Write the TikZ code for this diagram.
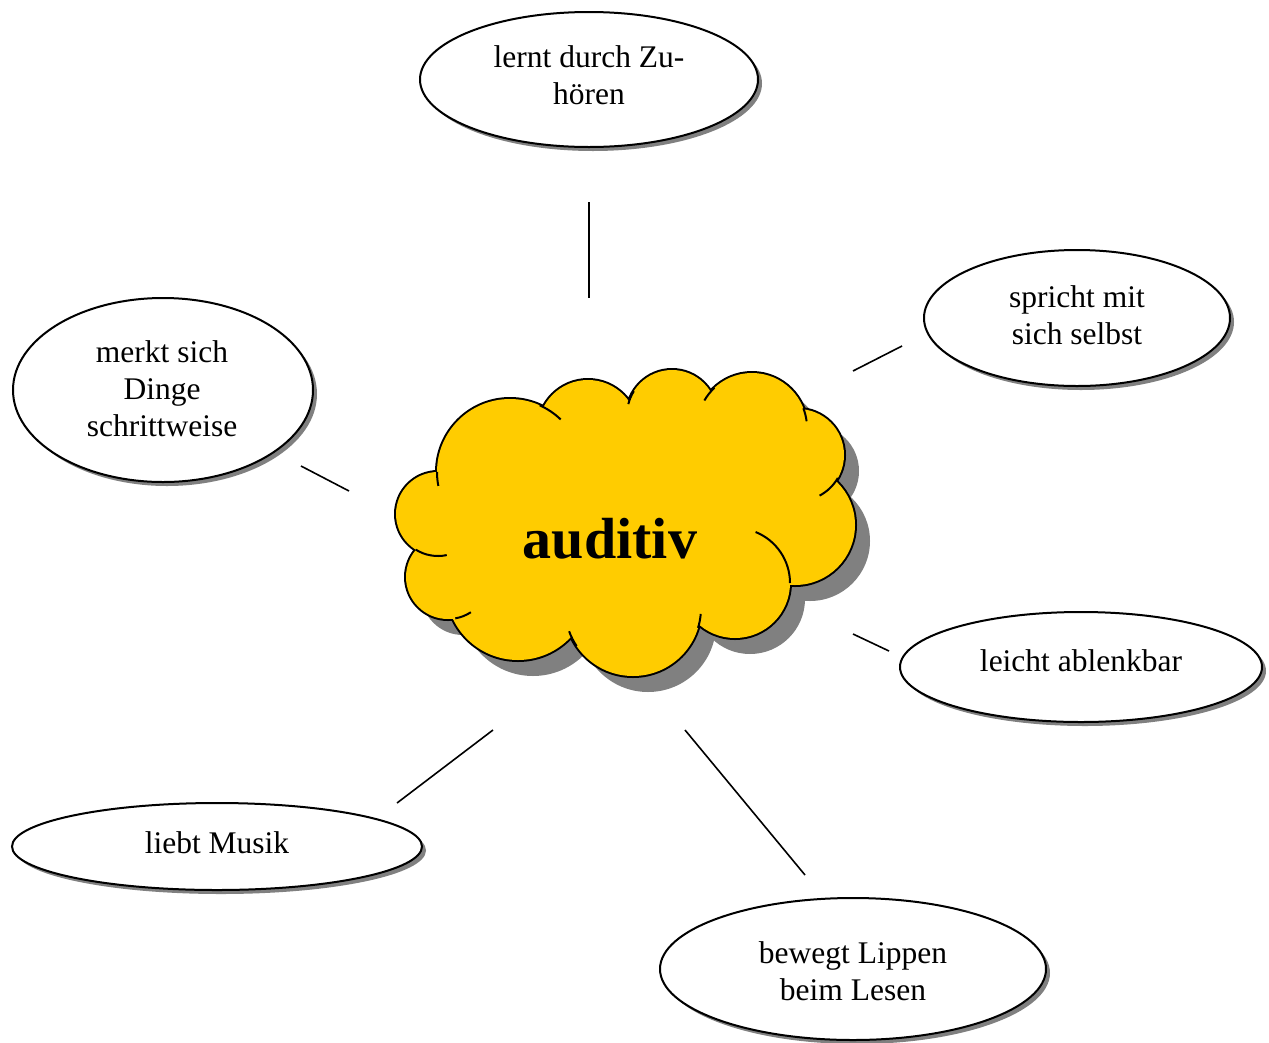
\documentclass[tikz,border=0pt]{standalone}
\usepackage{fontspec}
\setmainfont{Liberation Serif}
\usetikzlibrary{shapes.geometric,shadows}
\definecolor{cloudyellow}{RGB}{255,204,0}
\definecolor{shadowgray}{RGB}{128,128,128}
\begin{document}
\begin{tikzpicture}[x=1pt,y=1pt,
  bubble/.style={ellipse,draw=black,line width=2pt,fill=white,inner sep=0pt,
    drop shadow={shadow xshift=4pt,shadow yshift=-4pt,fill=shadowgray,opacity=1}},
  btext/.style={align=center,inner sep=0pt,font=\fontsize{31.5}{37}\selectfont},
  link/.style={line width=1.6pt,black},
  tail/.style={line width=2pt,black}]
\useasboundingbox (0,0) rectangle (1269,-1042);
% cloud lobes (centre, radius)
\coordinate (cA) at (438,-514); \coordinate (cB) at (510,-472);
\coordinate (cC) at (588,-430); \coordinate (cD) at (672,-415);
\coordinate (cE) at (752,-428); \coordinate (cF) at (798,-455);
\coordinate (cG) at (795,-525); \coordinate (cH) at (735,-583);
\coordinate (cI) at (633,-608); \coordinate (cJ) at (518,-588);
\coordinate (cK) at (448,-577);
\newcommand\cloudlobes[1]{([shift={#1}]cA) circle[radius=42pt] ([shift={#1}]cB) circle[radius=73pt]
  ([shift={#1}]cC) circle[radius=50pt] ([shift={#1}]cD) circle[radius=45pt]
  ([shift={#1}]cE) circle[radius=55pt] ([shift={#1}]cF) circle[radius=46pt]
  ([shift={#1}]cG) circle[radius=60pt] ([shift={#1}]cH) circle[radius=55pt]
  ([shift={#1}]cI) circle[radius=68pt] ([shift={#1}]cJ) circle[radius=72pt]
  ([shift={#1}]cK) circle[radius=42pt]}
% shadow
\fill[shadowgray] \cloudlobes{(15,-16)};
% outline (outer half of a thick stroke)
\draw[line width=4pt] \cloudlobes{(0,0)};
% body
\fill[cloudyellow] \cloudlobes{(0,0)};
\fill[cloudyellow] (625,-520) ellipse[x radius=178pt,y radius=98pt];
% tails
\draw[tail] (cB) ++(-180:73pt) arc[start angle=-180,end angle=-169,radius=73pt];
\draw[tail] (cB) ++(66:73pt) arc[start angle=66,end angle=46,radius=73pt];
\draw[tail] (cD) ++(148:45pt) arc[start angle=148,end angle=166,radius=45pt];
\draw[tail] (cE) ++(133:55pt) arc[start angle=133,end angle=150,radius=55pt];
\draw[tail] (cE) ++(21:55pt) arc[start angle=21,end angle=7,radius=55pt];
\draw[tail] (cF) ++(-30:46pt) arc[start angle=-30,end angle=-62,radius=46pt];
\draw[tail] (cH) ++(68:55pt) arc[start angle=68,end angle=0,radius=55pt];
\draw[tail] (cI) ++(-17:68pt) arc[start angle=-17,end angle=-5,radius=68pt];
\draw[tail] (cI) ++(-146:68pt) arc[start angle=-146,end angle=-160,radius=68pt];
\draw[tail] (cK) ++(-80:42pt) arc[start angle=-80,end angle=-57,radius=42pt];
\draw[tail] (cA) ++(-122:42pt) arc[start angle=-122,end angle=-78,radius=42pt];
\node[font=\fontsize{58}{60}\selectfont\bfseries,anchor=base] (core) at (610,-558) {auditiv};
% bubbles
\node[bubble,minimum width=338pt,minimum height=135pt] (zuhoeren) at (589,-79.5) {};
\node[bubble,minimum width=306pt,minimum height=136pt] (spricht) at (1077,-318) {};
\node[bubble,minimum width=300pt,minimum height=184pt] (merkt) at (163,-390) {};
\node[bubble,minimum width=362pt,minimum height=110pt] (ablenkbar) at (1081,-667) {};
\node[bubble,minimum width=410pt,minimum height=87pt] (musik) at (217,-846.5) {};
\node[bubble,minimum width=386pt,minimum height=142pt] (lippen) at (853,-969) {};
\node[btext] (zuhoeren-t) at (589,-75.5) {lernt durch Zu-\\hören};
\node[btext] (spricht-t) at (1077,-315) {spricht mit\\sich selbst};
\node[btext] (merkt-t) at (162,-389) {merkt sich\\Dinge\\schrittweise};
\node[btext] (ablenkbar-t) at (1081,-661) {leicht ablenkbar};
\node[btext] (musik-t) at (217,-842.5) {liebt Musik};
\node[btext] (lippen-t) at (853,-971) {bewegt Lippen\\beim Lesen};
% connector ends
\coordinate (l1a) at (589,-202); \coordinate (l1b) at (589,-298);
\coordinate (l2a) at (853,-371); \coordinate (l2b) at (902,-346);
\coordinate (l3a) at (301,-466); \coordinate (l3b) at (349,-491);
\coordinate (l4a) at (853,-634); \coordinate (l4b) at (889,-651);
\coordinate (l5a) at (397,-803); \coordinate (l5b) at (493,-730);
\coordinate (l6a) at (685,-730); \coordinate (l6b) at (805,-875);
\draw[link] (l1a) -- (l1b);
\draw[link] (l2a) -- (l2b);
\draw[link] (l3a) -- (l3b);
\draw[link] (l4a) -- (l4b);
\draw[link] (l5a) -- (l5b);
\draw[link] (l6a) -- (l6b);
\end{tikzpicture}
\end{document}
